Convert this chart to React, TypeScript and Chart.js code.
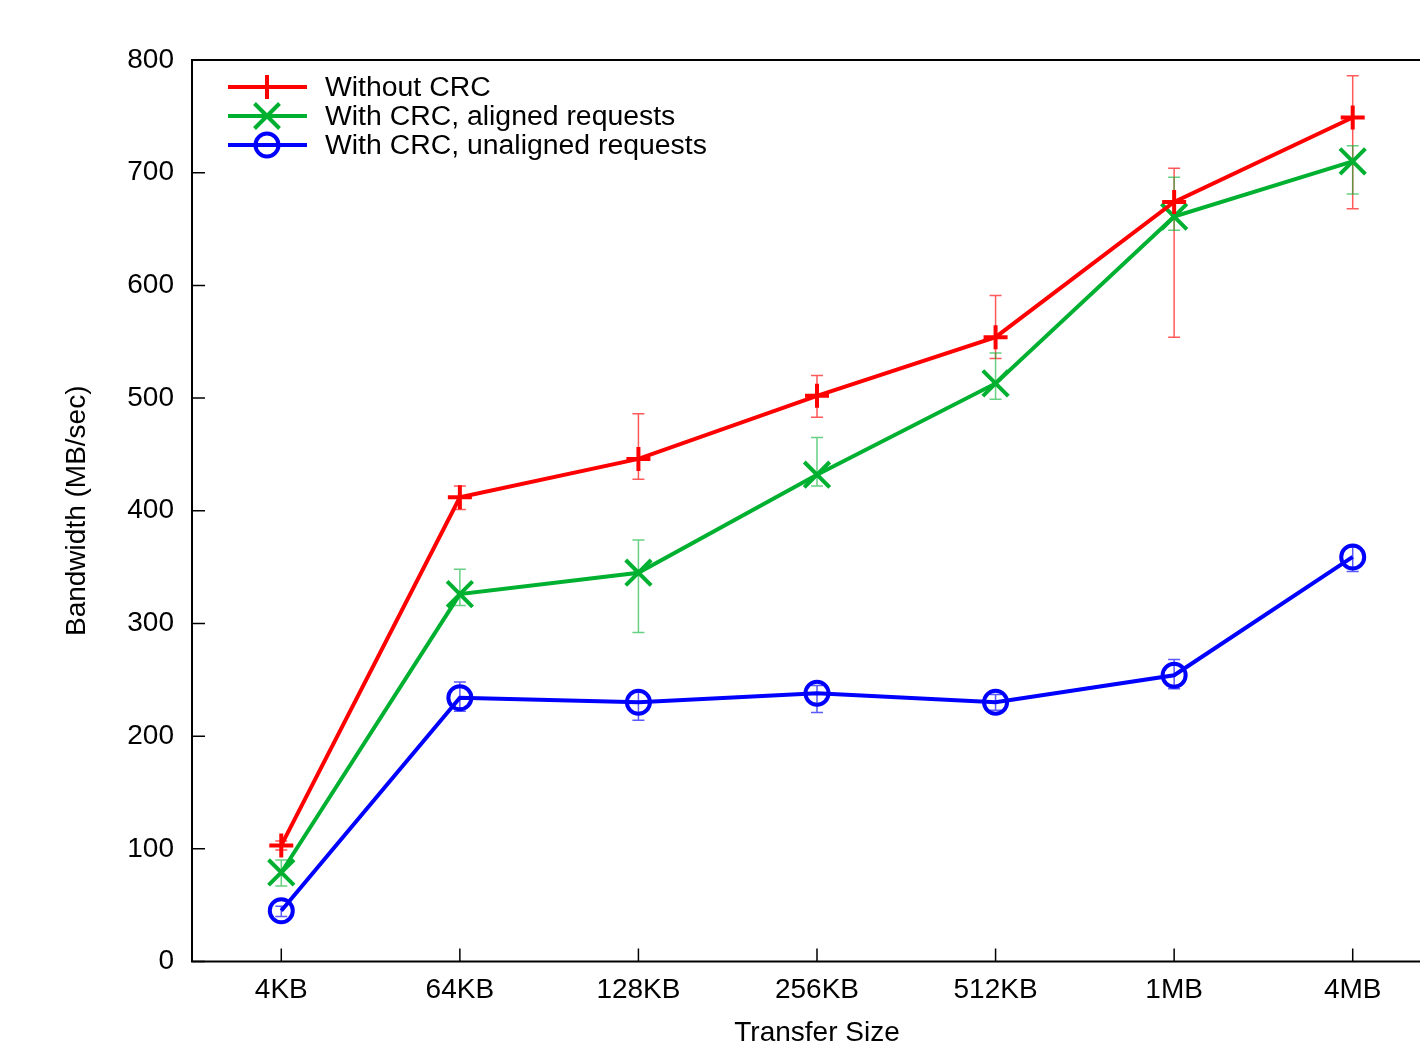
import React, { useEffect, useRef } from "react";
import { Chart, registerables } from "chart.js";

Chart.register(...registerables);

const categories = ["4KB", "64KB", "128KB", "256KB", "512KB", "1MB", "4MB"];

const withoutCrc = [103, 412, 446, 502, 554, 674, 749];
const withoutCrcLow = [99, 401, 428, 483, 535, 554, 668];
const withoutCrcHigh = [107, 422, 486, 520, 591, 704, 786];

const alignedCrc = [79, 326, 345, 432, 513, 661, 710];
const alignedLow = [67, 316, 292, 422, 499, 649, 681];
const alignedHigh = [90, 348, 374, 465, 540, 696, 724];

const unalignedCrc = [45, 234, 230, 238, 230, 254, 359];
const unalignedLow = [40, 222, 214, 221, 223, 242, 346];
const unalignedHigh = [49, 248, 240, 245, 237, 268, 368];

const seriesLabels = [
  "Without CRC",
  "With CRC, aligned requests",
  "With CRC, unaligned requests",
];
const seriesColors = ["#ff0000", "#00b030", "#0000ff"];
const errColors = ["rgba(255,0,0,0.65)", "rgba(0,176,48,0.6)", "rgba(0,0,255,0.65)"];
const pointStyles = ["cross", "crossRot", "circle"];
const pointRadii = [12, 18, 11.5];

const yTicks = [0, 100, 200, 300, 400, 500, 600, 700, 800];

const FONT = '"Liberation Sans", Arial, Helvetica, sans-serif';
const W = 1464;
const H = 1043;

export default function App() {
  const ref = useRef<HTMLCanvasElement | null>(null);

  useEffect(() => {
    if (!ref.current) return;
    const lows = [withoutCrcLow, alignedLow, unalignedLow];
    const highs = [withoutCrcHigh, alignedHigh, unalignedHigh];
    const values = [withoutCrc, alignedCrc, unalignedCrc];

    const errorBars = {
      id: "errorBars",
      beforeDatasetsDraw(chart: any) {
        const ctx = chart.ctx;
        const xs = chart.scales.x;
        const ys = chart.scales.y;
        ctx.save();
        for (let d = 0; d < 3; d++) {
          ctx.strokeStyle = errColors[d];
          ctx.lineWidth = 1.5;
          for (let i = 0; i < categories.length; i++) {
            const x = xs.getPixelForValue(i);
            const y1 = ys.getPixelForValue(lows[d][i]);
            const y2 = ys.getPixelForValue(highs[d][i]);
            ctx.beginPath();
            ctx.moveTo(x, y1);
            ctx.lineTo(x, y2);
            ctx.moveTo(x - 6, y1);
            ctx.lineTo(x + 6, y1);
            ctx.moveTo(x - 6, y2);
            ctx.lineTo(x + 6, y2);
            ctx.stroke();
          }
        }
        ctx.restore();
      },
    };

    const frame = {
      id: "frame",
      afterDraw(chart: any) {
        const ctx = chart.ctx;
        const a = chart.chartArea;
        const xs = chart.scales.x;
        const ys = chart.scales.y;
        ctx.save();
        ctx.strokeStyle = "#000";
        ctx.lineWidth = 2;
        ctx.strokeRect(a.left, a.top, a.right - a.left, a.bottom - a.top);
        ctx.beginPath();
        ctx.lineWidth = 1.5;
        for (const v of yTicks) {
          const y = ys.getPixelForValue(v);
          ctx.moveTo(a.left, y);
          ctx.lineTo(a.left + 13, y);
          ctx.moveTo(a.right, y);
          ctx.lineTo(a.right - 13, y);
        }
        for (let i = 0; i < categories.length; i++) {
          const x = xs.getPixelForValue(i);
          ctx.moveTo(x, a.bottom);
          ctx.lineTo(x, a.bottom - 13);
        }
        ctx.stroke();

        // legend
        const rowY = [87, 116, 145];
        ctx.font = `28.4px ${FONT}`;
        ctx.textBaseline = "middle";
        ctx.textAlign = "left";
        for (let d = 0; d < 3; d++) {
          const y = rowY[d];
          ctx.strokeStyle = seriesColors[d];
          ctx.lineWidth = 4;
          ctx.beginPath();
          ctx.moveTo(228, y);
          ctx.lineTo(307, y);
          ctx.stroke();
          const r = d === 1 ? 12.5 : 12;
          ctx.beginPath();
          if (d === 0) {
            ctx.moveTo(267 - r, y);
            ctx.lineTo(267 + r, y);
            ctx.moveTo(267, y - r);
            ctx.lineTo(267, y + r);
          } else if (d === 1) {
            ctx.moveTo(267 - r, y - r);
            ctx.lineTo(267 + r, y + r);
            ctx.moveTo(267 + r, y - r);
            ctx.lineTo(267 - r, y + r);
          } else {
            ctx.arc(267, y, 11.5, 0, Math.PI * 2);
          }
          ctx.stroke();
          ctx.fillStyle = "#000";
          ctx.fillText(seriesLabels[d], 325, y + 1);
        }
        ctx.restore();
      },
    };

    const chart = new Chart(ref.current, {
      type: "line",
      data: {
        labels: categories,
        datasets: values.map((v, d) => ({
          label: seriesLabels[d],
          data: v,
          borderColor: seriesColors[d],
          backgroundColor: "rgba(0,0,0,0)",
          borderWidth: 4,
          pointStyle: pointStyles[d] as any,
          pointRadius: pointRadii[d],
          pointBorderWidth: 4,
          pointBorderColor: seriesColors[d],
          pointBackgroundColor: "rgba(0,0,0,0)",
          tension: 0,
          fill: false,
          clip: false as any,
        })),
      },
      options: {
        responsive: false,
        animation: false,
        events: [],
        layout: { padding: { left: 0, top: 60, right: 16, bottom: 0 } },
        plugins: {
          legend: { display: false },
          tooltip: { enabled: false },
        },
        scales: {
          x: {
            type: "category",
            offset: true,
            grid: { display: false, drawTicks: false },
            border: { display: false },
            ticks: {
              color: "#000",
              font: { family: FONT, size: 28 },
              padding: 12,
              maxRotation: 0,
              autoSkip: false,
            },
            title: {
              display: true,
              text: "Transfer Size",
              color: "#000",
              font: { family: FONT, size: 28, lineHeight: 0.7 },
              padding: { top: 0, bottom: 0 },
            },
            afterFit(s: any) {
              s.height = 81.5;
            },
          },
          y: {
            min: 0,
            max: 800,
            grid: { display: false, drawTicks: false },
            border: { display: false },
            ticks: {
              stepSize: 100,
              color: "#000",
              font: { family: FONT, size: 28 },
              padding: 18,
            },
            title: {
              display: true,
              text: "Bandwidth (MB/sec)",
              color: "#000",
              font: { family: FONT, size: 28, lineHeight: 1.2 },
              padding: { top: 60, bottom: 0 },
            },
            afterFit(s: any) {
              s.width = 192;
            },
          },
        },
      },
      plugins: [errorBars, frame],
    });
    return () => chart.destroy();
  }, []);

  return (
    <div
      style={{
        position: "absolute",
        left: 0,
        top: 0,
        width: 1420,
        height: H,
        overflow: "hidden",
        background: "#fff",
      }}
    >
      <canvas ref={ref} width={W} height={H} style={{ display: "block" }} />
    </div>
  );
}
